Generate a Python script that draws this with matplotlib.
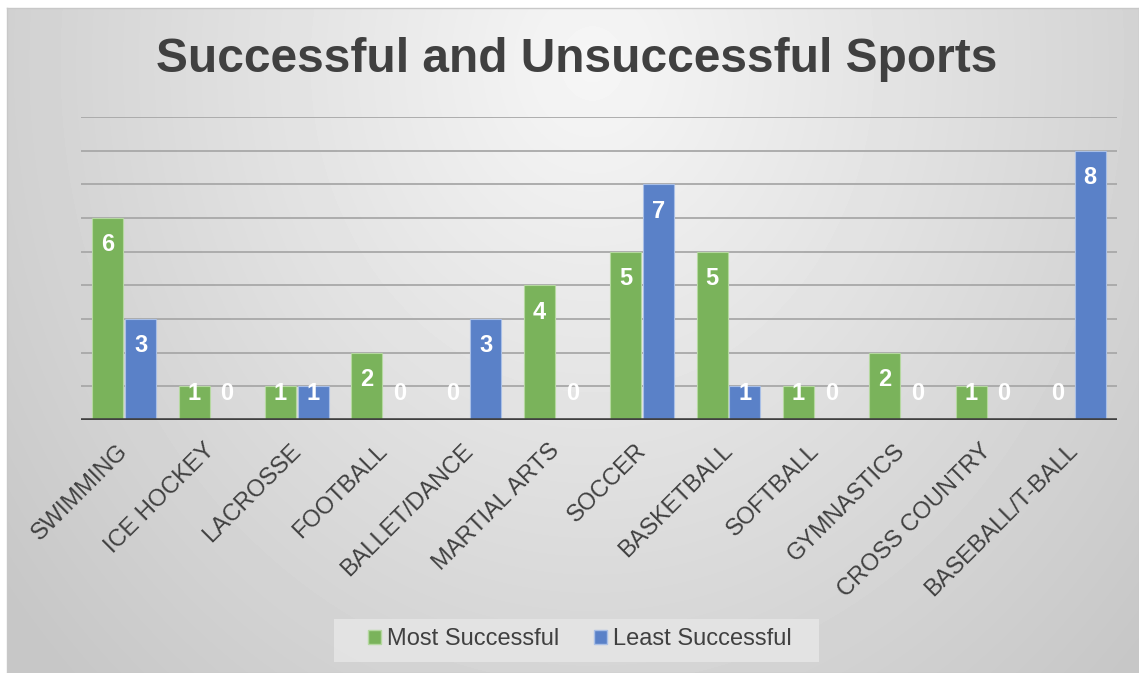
import matplotlib.pyplot as plt
from matplotlib.patches import Patch, Rectangle
from matplotlib.transforms import ScaledTranslation
import numpy as np

plt.rcParams['font.family'] = ['Liberation Sans', 'DejaVu Sans']

# data
sports = ['SWIMMING', 'ICE HOCKEY', 'LACROSSE', 'FOOTBALL', 'BALLET/DANCE',
          'MARTIAL ARTS', 'SOCCER', 'BASKETBALL', 'SOFTBALL', 'GYMNASTICS',
          'CROSS COUNTRY', 'BASEBALL/T-BALL']
most_successful = [6, 1, 1, 2, 0, 4, 5, 5, 1, 2, 1, 0]
least_successful = [3, 0, 1, 0, 3, 0, 7, 1, 0, 0, 0, 8]

green = '#7AB35B'
blue = '#5A81C8'
dark = '#404040'

W, H = 1139, 673
fig = plt.figure(figsize=(W / 100, H / 100), dpi=100, facecolor='white')

# background panel with radial gradient
bx0, by0 = 7, 8
bg = fig.add_axes([bx0 / W, 0, 1 - bx0 / W, 1 - by0 / H])
yy, xx = np.mgrid[0:H - by0, 0:W - bx0]
r = np.sqrt(((xx - 585) / 600.0) ** 2 + ((yy - 55) / 700.0) ** 2)
grad = np.clip(0.965 - 0.15 * r, 0.78, 0.97)
bg.imshow(grad, cmap='gray', vmin=0, vmax=1, aspect='auto', interpolation='bilinear')
bg.set_xticks([])
bg.set_yticks([])
for s in bg.spines.values():
    s.set_color('#c8c8c8')
    s.set_linewidth(1.0)

# legend background box
fig.patches.append(Rectangle((334 / W, 1 - 662 / H), (819 - 334) / W, 43 / H,
                             transform=fig.transFigure, facecolor='#e6e6e6',
                             edgecolor='none', alpha=0.85, zorder=0.5))

# main plot area
left, right, top, base = 81, 1117, 117, 420
ax = fig.add_axes([left / W, 1 - base / H, (right - left) / W, (base - top) / H])
ax.patch.set_alpha(0)

x = np.arange(len(sports))
bw = 0.36
off = 0.19
ax.bar(x - off, most_successful, bw, color=green, edgecolor='#b5d8a0', linewidth=0.8, zorder=3)
ax.bar(x + off, least_successful, bw, color=blue, edgecolor='#a9bfe6', linewidth=0.8, zorder=3)

ax.set_xlim(-0.5, len(sports) - 0.5)
ax.set_ylim(0, 9)
for v in range(1, 10):
    ax.axhline(v, color='#a8a8a8', lw=1.3, zorder=1)
ax.axhline(0, color=dark, lw=2.6, zorder=4)

for s in ax.spines.values():
    s.set_visible(False)
ax.set_yticks([])
ax.set_xticks(x)
ax.set_xticklabels(sports, rotation=45, ha='right', rotation_mode='anchor',
                   fontsize=17, color=dark)
ax.tick_params(axis='x', length=0, pad=12)
shift = ScaledTranslation(-0.07, -0.03, fig.dpi_scale_trans)
for lab in ax.get_xticklabels():
    lab.set_transform(lab.get_transform() + shift)

# value labels
for xs, vals in ((x - off, most_successful), (x + off, least_successful)):
    for xi, v in zip(xs, vals):
        ax.text(xi, max(v - 0.8, 0.8), str(v), ha='center', va='center',
                color='white', fontsize=17, fontweight='bold', zorder=5)

fig.text(0.506, 1 - 59 / H, 'Successful and Unsuccessful Sports', ha='center', va='center',
         fontsize=34.5, fontweight='bold', color=dark)

handles = [Patch(facecolor=green, edgecolor='#b5d8a0'), Patch(facecolor=blue, edgecolor='#a9bfe6')]
leg = fig.legend(handles, ['Most Successful', 'Least Successful'], loc='center',
                 bbox_to_anchor=(580 / W, 1 - 639 / H), ncol=2, frameon=False,
                 fontsize=17, handlelength=0.55, handleheight=0.55, handletextpad=0.25,
                 columnspacing=1.5, borderpad=0.3)
for t in leg.get_texts():
    t.set_color(dark)

fig.savefig('out.png', dpi=100, facecolor='white')
